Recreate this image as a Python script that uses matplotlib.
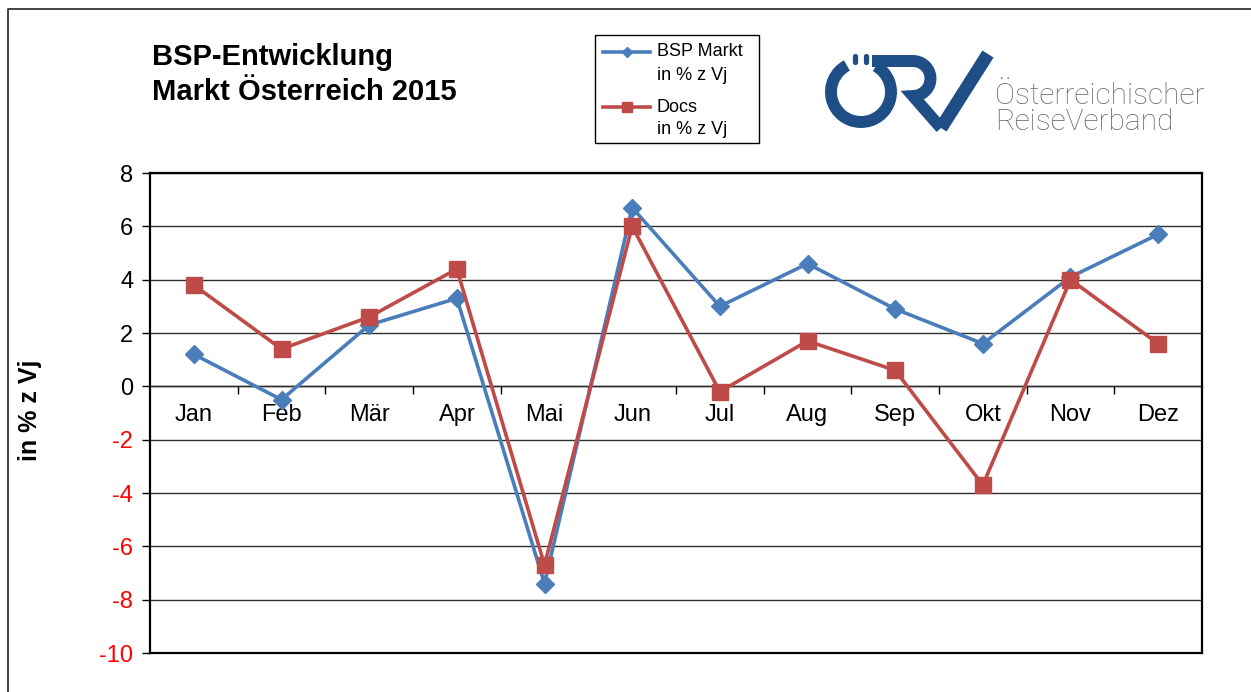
import matplotlib
matplotlib.use("Agg")
import matplotlib.pyplot as plt
import numpy as np
from matplotlib.patches import Arc, Rectangle

# data (Veränderung in % zum Vorjahr)
months = ["Jan", "Feb", "Mär", "Apr", "Mai", "Jun", "Jul", "Aug", "Sep", "Okt", "Nov", "Dez"]
bsp_markt = [1.2, -0.5, 2.3, 3.3, -7.4, 6.7, 3.0, 4.6, 2.9, 1.6, 4.1, 5.7]
docs = [3.8, 1.4, 2.6, 4.4, -6.7, 6.0, -0.2, 1.7, 0.6, -3.7, 4.0, 1.6]
y_ticks = list(range(-10, 10, 2))
legend_labels = [("BSP Markt", "in % z Vj"), ("Docs", "in % z Vj")]

BLUE = "#4a7ebb"
RED = "#be4b48"
LOGO = "#1f4e87"
W, H = 1251, 692

plt.rcParams["font.family"] = ["Liberation Sans", "DejaVu Sans"]
plt.rcParams["axes.unicode_minus"] = False

fig = plt.figure(figsize=(W / 100, H / 100), dpi=100)

# ---- main chart ----
ax = fig.add_axes([150 / W, 39 / H, 1052 / W, 480 / H])
x = np.arange(len(months))
ax.plot(x, bsp_markt, color=BLUE, lw=2.6, marker="D", ms=9, zorder=3)
ax.plot(x, docs, color=RED, lw=2.6, marker="s", ms=11, zorder=4)

ax.set_xlim(-0.5, len(months) - 0.5)
ax.set_ylim(y_ticks[0], y_ticks[-1])
ax.set_yticks(y_ticks)
ax.set_xticks([])
ax.yaxis.grid(True, color="#303030", lw=1)
ax.set_axisbelow(True)
ax.tick_params(axis="y", length=6, width=1, labelsize=17, pad=6)
for lbl, v in zip(ax.get_yticklabels(), y_ticks):
    lbl.set_color("#ff0000" if v < 0 else "black")
for sp in ax.spines.values():
    sp.set_linewidth(1.6)
    sp.set_color("black")

# category axis sits on the zero line
zero_frac = (0 - y_ticks[0]) / (y_ticks[-1] - y_ticks[0])
sec = ax.secondary_xaxis(zero_frac)
sec.xaxis.set_ticks_position("bottom")
sec.xaxis.set_label_position("bottom")
sec.set_xticks(x[:-1] + 0.5, labels=[])
sec.set_xticks(x, labels=months, minor=True)
sec.tick_params(which="major", length=6, width=1, direction="out")
sec.tick_params(which="minor", length=0, pad=13, labelsize=17)
for sp in sec.spines.values():
    sp.set_linewidth(1)
    sp.set_color("black")

ax.set_ylabel("in % z Vj", fontsize=18, fontweight="bold")
ax.yaxis.set_label_coords((42 - 150) / 1052, (653 - 410) / 480)

# ---- title ----
fig.text(152 / W, 1 - 65 / H, "BSP-Entwicklung", fontsize=21, fontweight="bold", va="baseline")
fig.text(152 / W, 1 - 100 / H, "Markt Österreich 2015", fontsize=21, fontweight="bold", va="baseline")

# ---- overlay in pixel coords: frame, legend, logo ----
deco = fig.add_axes([0, 0, 1, 1], zorder=5)
deco.set_xlim(0, W)
deco.set_ylim(H, 0)
deco.axis("off")
deco.patch.set_visible(False)

deco.plot([8, 8, W], [H, 9, 9], color="#222222", lw=1.2)

# legend box
deco.add_patch(Rectangle((595, 35), 164, 108, fill=False, ec="black", lw=1))
for (name, unit), color, mk, ms, yy in zip(legend_labels, [BLUE, RED], ["D", "s"], [5, 7], [52, 107]):
    deco.plot([603, 650], [yy, yy], color=color, lw=2.6)
    deco.plot([626.5], [yy], color=color, marker=mk, ms=ms)
    deco.text(657, yy, name, fontsize=13, va="center")
    deco.text(657, yy + 23, unit, fontsize=13, va="center")

# ÖRV logo
deco.add_patch(Arc((861, 92), 60, 60, theta1=-60, theta2=242, lw=8.6, color=LOGO))
for dx in (855, 866):
    deco.plot([dx, dx], [56, 62], color=LOGO, lw=3.8, solid_capstyle="round")
t = np.linspace(-np.pi / 2, np.pi / 2, 24)
bowl_x = np.concatenate([[872], 913 + 17.5 * np.cos(t), [941]])
bowl_y = np.concatenate([[61], 78.5 + 17.5 * np.sin(t), [128]])
deco.plot(bowl_x, bowl_y, color=LOGO, lw=8.6, solid_joinstyle="miter", solid_capstyle="butt")
deco.plot([941, 988], [128, 54], color=LOGO, lw=9.5, solid_capstyle="butt")
deco.text(995, 104, "Österreichischer", fontsize=21.5, family=["Roboto", "DejaVu Sans"],
          fontweight="light", color="#666666", va="baseline")
deco.text(995, 130, "ReiseVerband", fontsize=21.5, family=["Roboto", "DejaVu Sans"],
          fontweight="light", color="#666666", va="baseline")

fig.savefig("out.png", dpi=100)
